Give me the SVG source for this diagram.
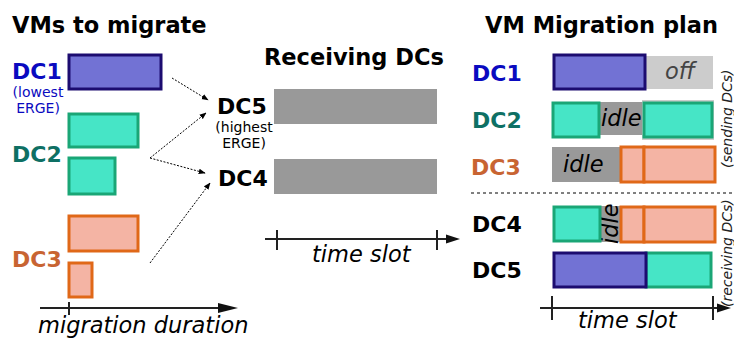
<svg xmlns="http://www.w3.org/2000/svg" width="734" height="338" viewBox="0 0 734 338">
<defs>
<style>
text{font-family:"DejaVu Sans","Liberation Sans",sans-serif}
.title{font-size:22.5px;font-weight:bold;fill:#000}
.lbl{font-size:22px;font-weight:bold}
.small{font-size:14px}
.it{font-style:italic;font-size:22.5px}
.vt{font-style:italic;font-size:14px;fill:#222}
.vm1{fill:#7272d4;stroke:#1c0c70;stroke-width:3}
.vm2{fill:#46e5c6;stroke:#1aa676;stroke-width:3}
.vm3{fill:#f4b4a4;stroke:#e06818;stroke-width:3}
.busy{fill:#999}
.off{fill:#cccccc}
.dot{fill:none;stroke:#000;stroke-width:1;stroke-dasharray:2,1.5}
.axis{fill:none;stroke:#222;stroke-width:2}
</style>
<marker id="ah" viewBox="0 0 10 10" refX="9" refY="5" markerWidth="7" markerHeight="7" orient="auto" markerUnits="userSpaceOnUse">
<path d="M0,1 L10,5 L0,9 z" fill="#000"/>
</marker>
</defs>

<!-- Left panel -->
<g id="left-title"><text class="title" x="12" y="33">VMs to migrate</text></g>
<g id="dc1-src">
<text class="lbl" x="12" y="79" fill="#0a0ac0">DC1</text>
<text class="small" x="38" y="97" text-anchor="middle" fill="#0a0ac0">(lowest</text>
<text class="small" x="38" y="113" text-anchor="middle" fill="#0a0ac0">ERGE)</text>
<rect class="vm1" x="69" y="55" width="92" height="34"/>
</g>
<g id="dc2-src">
<text class="lbl" x="12" y="162" fill="#0e7064">DC2</text>
<rect class="vm2" x="69" y="114" width="69" height="33"/>
<rect class="vm2" x="69" y="158" width="46" height="36"/>
</g>
<g id="dc3-src">
<text class="lbl" x="12" y="267" fill="#c86432">DC3</text>
<rect class="vm3" x="69" y="216" width="69" height="35"/>
<rect class="vm3" x="69" y="263" width="23" height="34"/>
</g>
<g id="left-axis">
<line class="axis" x1="40" y1="308" x2="226" y2="308"/>
<path d="M218,303 L238,308 L218,313 z" fill="#111"/>
<line class="axis" x1="69" y1="302" x2="69" y2="315"/>
<text class="it" x="38" y="333">migration duration</text>
</g>

<!-- Middle panel -->
<g id="mid-title"><text class="title" x="264" y="65">Receiving DCs</text></g>
<g id="dc5-recv">
<text class="lbl" x="217" y="114" fill="#000">DC5</text>
<text class="small" x="244" y="132" text-anchor="middle">(highest</text>
<text class="small" x="244" y="148" text-anchor="middle">ERGE)</text>
<rect class="busy" x="274" y="89" width="163" height="35"/>
</g>
<g id="dc4-recv">
<text class="lbl" x="218" y="186" fill="#000">DC4</text>
<rect class="busy" x="274" y="159" width="163" height="35"/>
</g>
<g id="mid-axis">
<line class="axis" x1="265" y1="239" x2="450" y2="239"/>
<path d="M446,234.5 L460,239 L446,243.5 z" fill="#111"/>
<line class="axis" x1="277" y1="230" x2="277" y2="250"/>
<line class="axis" x1="437" y1="230" x2="437" y2="250"/>
<text class="it" x="312" y="262">time slot</text>
</g>

<!-- Connectors -->
<g id="connectors">
<line class="dot" x1="172" y1="78" x2="208" y2="100" marker-end="url(#ah)"/>
<line class="dot" x1="150" y1="158" x2="206" y2="113" marker-end="url(#ah)"/>
<line class="dot" x1="150" y1="158" x2="205" y2="173" marker-end="url(#ah)"/>
<line class="dot" x1="150" y1="263" x2="210" y2="183" marker-end="url(#ah)"/>
</g>

<!-- Right panel -->
<g id="right-title"><text class="title" x="485" y="33">VM Migration plan</text></g>
<g id="plan-dc1">
<text class="lbl" x="472" y="81" fill="#0a0ac0">DC1</text>
<rect class="off" x="646" y="56" width="67" height="33"/>
<text class="it" x="665" y="79" fill="#444">off</text>
<rect class="vm1" x="554" y="55" width="91" height="34"/>
</g>
<g id="plan-dc2">
<text class="lbl" x="472" y="128" fill="#0e7064">DC2</text>
<rect class="busy" x="599" y="102" width="44" height="33"/>
<text class="it" x="601" y="126" fill="#000">idle</text>
<rect fill="#ccc" x="642" y="100" width="72" height="40"/>
<rect class="vm2" x="553" y="103" width="46" height="34"/>
<rect class="vm2" x="644" y="103" width="68" height="34"/>
</g>
<g id="plan-dc3">
<text class="lbl" x="471" y="175" fill="#c86432">DC3</text>
<rect class="busy" x="552" y="147" width="70" height="35"/>
<text class="it" x="563" y="172" fill="#000">idle</text>
<rect class="vm3" x="621" y="147" width="23" height="35"/>
<rect class="vm3" x="644" y="147" width="71" height="35"/>
</g>
<g id="sep"><line x1="471" y1="193" x2="734" y2="193" stroke="#000" stroke-width="1" stroke-dasharray="3,3"/></g>
<g id="plan-dc4">
<text class="lbl" x="472" y="232" fill="#000">DC4</text>
<rect class="busy" x="600" y="206" width="21" height="36"/>
<text class="it" transform="translate(618,244) rotate(-90)" fill="#000">idle</text>
<rect class="vm2" x="554" y="207" width="46" height="34"/>
<rect class="vm3" x="621" y="207" width="23" height="35"/>
<rect class="vm3" x="644" y="207" width="71" height="35"/>
</g>
<g id="plan-dc5">
<text class="lbl" x="472" y="278" fill="#000">DC5</text>
<rect class="vm2" x="646" y="253" width="65" height="34"/>
<rect class="vm1" x="554" y="253" width="92" height="34"/>
</g>
<g id="plan-labels">
<text class="vt" transform="translate(732,168) rotate(-90)">(sending DCs)</text>
<text class="vt" transform="translate(732,307) rotate(-90)">(receiving DCs)</text>
</g>
<g id="right-axis">
<line class="axis" x1="540" y1="308" x2="722" y2="308"/>
<path d="M717,303.5 L731,308 L717,312.5 z" fill="#111"/>
<line class="axis" x1="552" y1="296" x2="552" y2="320"/>
<line class="axis" x1="713" y1="296" x2="713" y2="320"/>
<text class="it" x="578" y="328">time slot</text>
</g>
</svg>
